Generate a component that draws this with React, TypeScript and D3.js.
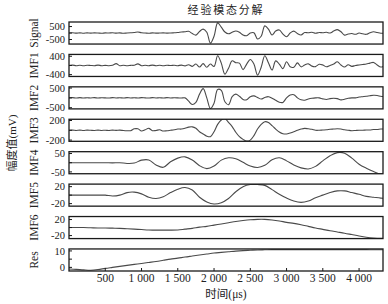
import React from 'react';
import * as d3 from 'd3';

const signalValues = [
  0, 20, -10, 15, -15, 10, -10, 15, 0, -20, 10, 0, 20, -10, 10, -20, 0, 20, 40, 80,
  20, 0, -20, 10, -10, 0, 10, -10, 0, 20, 40, 80, 100, 130, -40, -160, 120, 300, 60, -780,
  -250, 780, 450, 80, -60, 60, 160, 60, -150, -210, 0, 20, -460, -250, 550, 300, -150, 150, 240, -80,
  -290, 0, 150, -40, -150, 40, 20, 60, -20, 40, 20, 60, 0, 150, 260, 100, -160, -80, -40, -100,
  0, -60, -100, 20, 100, 40, -20, 0,
];
const imf1Values = [
  0, 15, -10, 10, -15, 10, 0, -10, 15, -10, 5, -10, 10, 80, -10, 10, -15, 5, 10, 70,
  -10, 10, -10, 15, -10, 10, -15, 10, -5, 10, -10, 15, -20, 30, -40, 60, -70, 80, -80, 60,
  -40, 420, 100, -380, -120, 200, 120, 100, -180, 60, 260, 60, -420, -80, 420, 120, -200, 200, 60, -140,
  160, -60, -80, 110, -60, 20, 70, -30, -50, 50, 20, -60, 0, 60, 160, 20, -70, 30, -40, 0,
  20, 40, 60, 100, 130, 20, -70, -20,
];
const imf2Values = [
  0, 10, -10, 10, -10, 5, -5, 10, -10, 5, 0, -10, 10, -5, 5, -10, 10, -5, 5, -10,
  10, 0, -10, 10, -5, 5, -10, 10, -5, 5, 0, -10, 0, -170, -340, -230, 190, 470, 0, -540,
  -270, 430, 380, -200, -350, 60, 190, 80, -80, -100, 60, 100, 20, -60, 20, 60, -20, -120, -220, -230,
  0, 140, 160, 0, -100, -120, -60, -20, 0, 0, -50, -80, -40, -20, -40, -100, -70, -20, 0, 0,
  40, 60, 80, 110, 130, 120, 80, 60,
];
const imf3Values = [
  0, 4, -3, 3, -4, 3, 0, -3, 4, -3, 2, -4, 3, -2, 3, -4, -8, -8, 30, 30,
  -15, 10, 40, -8, -4, 10, -15, -10, 0, 10, 25, 25, 40, 65, 70, 40, -30, -75, -120, -130,
  -30, 120, 210, 240, 160, 75, -40, -130, -185, -220, -200, -110, 25, 120, 175, 160, 95, 25, -35, -70,
  -75, -55, -30, 0, 25, 40, 30, 20, 0, 0, 5, 10, 20, 25, 30, 25, 10, 0, -8, -4,
  0, 0, 5, 5, 15, 15, 25, 25,
];
const imf4Values = [
  0, 0, 0, 0, 0, 0, -1, 0, -4, -2, 14, 15, -12, -25, 5, 25, 32, 15, -16, -32,
  -18, 14, 27, 22, 2, -18, -26, -14, 16, 27, 10, -12, -28, -34, -20, 10, 38, 55, 52, 25,
  -8, -30, -48, -62, -66,
];
const imf5Values = [
  0, 0, 0, 0, 0, 0, -2, 0, 6, 7, 3, -5, -8, -4, 6, 14, 18, 12, -5, -16,
  -21, -18, -8, 8, 20, 25, 25, 23, 13, 2, -7, -14, -17, -14, -6, 0, 6, 10, 10, 6,
  2, -3, -5, -7, -8,
];
const imf6Values = [
  0, 0, 0, -0.5, -1, -1, -1.5, -2, -3, -4, -5, -6, -6.5, -6.5, -6.5, -6, -4, -2, 1, 3,
  6, 9, 12, 15, 17.5, 19.5, 20.5, 20.5, 19, 16.5, 13, 10.5, 7, 3, -1, -4.5, -8, -11, -14, -17.5,
  -21, -24, -26, -27, -27,
];
const resValues = [
  -1, -1.2, -1.5, -1.7, -1.3, -0.6, 0, 0.6, 1.2, 1.8, 2.4, 3, 3.6, 4.3, 5, 5.6, 6.3, 6.9, 7.5, 8.1,
  8.7, 9.1, 9.5, 9.9, 10.2, 10.4, 10.6, 10.7, 10.8, 10.8, 10.8, 10.8, 10.8, 10.8, 10.8, 10.8, 10.8, 10.8, 10.8, 10.8,
  10.8, 10.8, 10.7, 10.7, 10.7,
];

const panelNames = ['Signal', 'IMF1', 'IMF2', 'IMF3', 'IMF4', 'IMF5', 'IMF6', 'Res'];
const panelSeries = [signalValues, imf1Values, imf2Values, imf3Values, imf4Values, imf5Values, imf6Values, resValues];
const panelSteps = [50, 50, 50, 50, 100, 100, 100, 100];
const panelDomains = [[-850, 850], [-480, 480], [-560, 560], [-225, 225], [-60, 60], [-26, 26], [-27.5, 27.5], [-2.2, 11.2]];
const panelTicks = [[500, 0, -500], [400, 0, -400], [500, 0, -500], [200, 0, -200], [50, 0, -50], [20, 0, -20], [20, 0, -20], [10, 5, 0]];
const xTicks = [500, 1000, 1500, 2000, 2500, 3000, 3500, 4000];
const xMax = 4330;

const title = '经验模态分解';
const xTitle = '时间(μs)';
const yTitle = '幅度值(mV)';

const W = 388, H = 304;
const left = 69, right = 383, top = 22, bottom = 271;
const serif = '"Liberation Serif", "Times New Roman", serif';
const cjk = '"Liberation Serif", "Noto Sans CJK SC", sans-serif';

const fmt = d3.formatLocale({ decimal: '.', thousands: ' ', grouping: [3], currency: ['', ''] }).format(',d');

export default function App() {
  const x = d3.scaleLinear().domain([0, xMax]).range([left, right]);
  const band = d3.scaleBand<string>().domain(panelNames).range([top, bottom]).paddingInner(0.32).paddingOuter(0);

  return (
    <svg width={W} height={H} style={{ position: 'absolute', left: 0, top: 0, background: '#fff' }}>
      <defs>
        {panelNames.map(name => (
          <clipPath id={`clip-${name}`} key={name}>
            <rect x={left} y={band(name)} width={right - left} height={band.bandwidth()} />
          </clipPath>
        ))}
      </defs>
      <text x={(left + right) / 2} y={14} textAnchor="middle" fontFamily={cjk} fontSize={11} letterSpacing={1.8} fill="#222">{title}</text>

      {panelNames.map((name, i) => {
        const y0 = band(name)!;
        const h = band.bandwidth();
        const y = d3.scaleLinear().domain(panelDomains[i]).range([y0 + h, y0]);
        const step = panelSteps[i];
        const line = d3.line<number>()
          .x((_, j) => x(j * step))
          .y(d => y(d))
          .curve(d3.curveCatmullRom.alpha(0.5));
        const ticks = panelTicks[i];
        return (
          <g key={name}>
            <path d={line(panelSeries[i]) ?? ''} fill="none" stroke="#4a4a4a" strokeWidth={1.1} clipPath={`url(#clip-${name})`} />
            <rect x={left} y={y0} width={right - left} height={h} fill="none" stroke="#1a1a1a" strokeWidth={1.3} />
            {ticks.map((t, k) => (
              <g key={k}>
                <line x1={left} x2={left + 3} y1={y(t)} y2={y(t)} stroke="#1a1a1a" strokeWidth={1} />
                {(k === 0 || k === ticks.length - 1) && (
                  <text x={left - 4} y={y(t)} dy="0.35em" textAnchor="end" fontFamily={serif} fontSize={10.5} fill="#222">{t}</text>
                )}
              </g>
            ))}
            <text transform={`translate(38,${y0 + h / 2}) rotate(-90)`} textAnchor="middle" fontFamily={serif} fontSize={11.5} fill="#222">{name}</text>
          </g>
        );
      })}

      {xTicks.map(t => (
        <g key={t}>
          <line x1={x(t)} x2={x(t)} y1={bottom} y2={bottom - 3} stroke="#1a1a1a" strokeWidth={1} />
          <text x={x(t)} y={282} textAnchor="middle" fontFamily={serif} fontSize={11.5} fill="#222">{fmt(t)}</text>
        </g>
      ))}
      <text x={(left + right) / 2} y={298} textAnchor="middle" fontFamily={cjk} fontSize={11.5} fill="#222">{xTitle}</text>
      <text transform={`translate(16,143) rotate(-90)`} textAnchor="middle" fontFamily={cjk} fontSize={11} fill="#222">{yTitle}</text>
    </svg>
  );
}
